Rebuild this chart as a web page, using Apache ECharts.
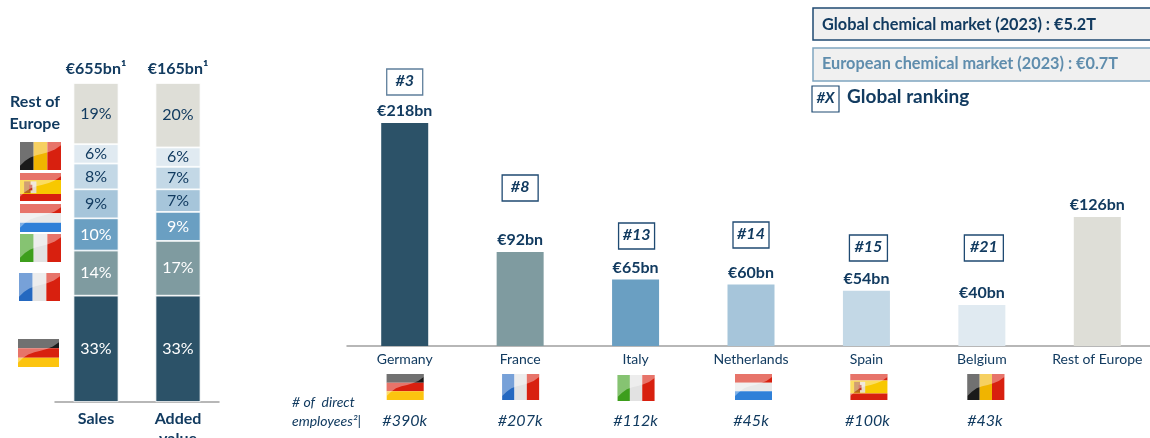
<!DOCTYPE html>
<html><head><meta charset="utf-8">
<style>html,body{margin:0;padding:0;background:#fff;overflow:hidden}#c{width:1150px;height:438px}</style>
<script src="https://cdn.jsdelivr.net/npm/echarts@6/dist/echarts.min.js"></script>
</head><body><div id="c"></div>
<script>
const stackCategories = ['Sales', 'Added\nvalue'];
const stackTotals = ['€655bn¹', '€165bn¹'];
const germanyShare = [33, 33];
const franceShare = [14, 17];
const italyShare = [10, 9];
const netherlandsShare = [9, 7];
const spainShare = [8, 7];
const belgiumShare = [6, 6];
const restShare = [19, 20];

const countries = ['Germany', 'France', 'Italy', 'Netherlands', 'Spain', 'Belgium', 'Rest of Europe'];
const chemicalSales = [218, 92, 65, 60, 54, 40, 126];
const rankings = ['#3', '#8', '#13', '#14', '#15', '#21', null];
const employees = ['#390k', '#207k', '#112k', '#45k', '#100k', '#43k', null];

const DARK = '#123b60';
const colors = ['#2c5268', '#7f9ba0', '#6a9fc2', '#a6c5da', '#c3d8e6', '#e0eaf1', '#deded7'];
const FONT = 'Lato';

const stackData = [germanyShare, franceShare, italyShare, netherlandsShare, spainShare, belgiumShare, restShare];
const stackSeries = stackData.map((d, i) => ({
  type: 'bar', stack: 'a', xAxisIndex: 0, yAxisIndex: 0, barWidth: 45, data: d,
  itemStyle: {color: colors[i], borderColor: '#fff', borderWidth: 0.8},
  label: {show: true, position: 'inside', formatter: '{c}%', fontFamily: FONT, fontSize: 16,
    color: i < 3 ? '#fff' : DARK},
  animation: false
}));

const chart = echarts.init(document.getElementById('c'), null, {renderer: 'canvas'});
const baseAxis = {
  type: 'category',
  axisTick: {show: false},
  axisLine: {lineStyle: {color: '#a0a0a0', width: 1.5}}
};
chart.setOption({
  animation: false,
  backgroundColor: '#fff',
  grid: [
    {left: 55, top: 83, width: 164, height: 319, outerBoundsMode: 'none'},
    {left: 347, top: 123, width: 808, height: 223, outerBoundsMode: 'none'}
  ],
  xAxis: [
    {...baseAxis, gridIndex: 0, data: stackCategories,
      axisLabel: {fontFamily: FONT, fontWeight: 'bold', fontSize: 16, color: DARK, margin: 7, lineHeight: 20, interval: 0}},
    {...baseAxis, gridIndex: 1, data: countries,
      axisLabel: {fontFamily: FONT, fontSize: 14, color: DARK, margin: 6, interval: 0}}
  ],
  yAxis: [
    {type: 'value', gridIndex: 0, min: 0, max: 99, show: false},
    {type: 'value', gridIndex: 1, min: 0, max: 218, show: false}
  ],
  series: [...stackSeries, {
    type: 'bar', xAxisIndex: 1, yAxisIndex: 1, barWidth: 47,
    data: chemicalSales.map((v, i) => ({value: v, itemStyle: {color: colors[i]}})),
    label: {show: true, position: 'top', distance: 4, formatter: '€{c}bn', fontFamily: FONT,
      fontWeight: 'bold', fontSize: 16, color: DARK}
  }]
});

const glossCurve = [[0, 0], [1, 0], [1, 0.12], [0.85, 0.27], [0.7, 0.36], [0.55, 0.42], [0.4, 0.47], [0.25, 0.55], [0.12, 0.68], [0, 0.85]];
function gloss(w, h) {
  return {type: 'polygon', shape: {points: glossCurve.map(p => [p[0] * w, p[1] * h])},
    style: {fill: 'rgba(255,255,255,0.38)'}};
}
function rect(x, y, w, h, fill) { return {type: 'rect', shape: {x, y, width: w, height: h}, style: {fill}}; }
const flagArt = {
  Germany: (w, h) => [rect(0, 0, w, h / 3, '#1a1a1a'), rect(0, h / 3, w, h / 3, '#d8200f'), rect(0, 2 * h / 3, w, h / 3, '#fcc40f')],
  France: (w, h) => [rect(0, 0, w / 3, h, '#2468c0'), rect(w / 3, 0, w / 3, h, '#e2e2e2'), rect(2 * w / 3, 0, w / 3, h, '#d8200f')],
  Italy: (w, h) => [rect(0, 0, w / 3, h, '#3d9e1c'), rect(w / 3, 0, w / 3, h, '#e2e2e2'), rect(2 * w / 3, 0, w / 3, h, '#d8200f')],
  Netherlands: (w, h) => [rect(0, 0, w, h / 3, '#d8200f'), rect(0, h / 3, w, h / 3, '#e8e8e8'), rect(0, 2 * h / 3, w, h / 3, '#2f80d8')],
  Spain: (w, h) => [rect(0, 0, w, h / 4, '#d8200f'), rect(0, h / 4, w, h / 2, '#f8c800'), rect(0, 3 * h / 4, w, h / 4, '#d8200f'),
    rect(w * 0.1, h * 0.3, w * 0.16, h * 0.42, '#b5651d'), rect(w * 0.26, h * 0.3, w * 0.14, h * 0.42, '#e8dcc8'), rect(w * 0.22, h * 0.42, w * 0.08, h * 0.2, '#c03020')],
  Belgium: (w, h) => [rect(0, 0, w / 3, h, '#1a1a1a'), rect(w / 3, 0, w / 3, h, '#f0b400'), rect(2 * w / 3, 0, w / 3, h, '#d8200f')]
};
function flag(name, x, y, w, h) {
  return {type: 'group', x, y, children: [...flagArt[name](w, h), gloss(w, h)]};
}
function text(t, x, y, o) {
  return {type: 'text', x, y, style: Object.assign({text: t, fontFamily: FONT, fill: DARK, align: 'center', verticalAlign: 'middle'}, o || {})};
}

const rankBoxY = [69, 175, 223, 222, 235, 235];
const rankBoxW = [36, 36, 36, 36, 38, 39];
const rankBoxShift = [0, 0, 1, 0, 2, 2];
const rowFlagY = [374, 374, 375, 374, 374, 374];
const rowFlagShift = [0, 0, 0, 2, 2, 3.5];
const employeeShift = [0, 0, 0, 0, 1, 3];
const sideFlags = [['Germany', 18, 339], ['France', 19, 273], ['Italy', 20, 234], ['Netherlands', 20, 204], ['Spain', 20, 173], ['Belgium', 20, 142]];
const g = [];

stackTotals.forEach((t, i) => {
  const cx = chart.convertToPixel({xAxisIndex: 0}, i);
  g.push(text(t, cx, 69, {fontWeight: 'bold', fontSize: 16}));
});
g.push(text('Rest of', 60, 102, {fontWeight: 'bold', fontSize: 16, align: 'right'}));
g.push(text('Europe', 60, 124, {fontWeight: 'bold', fontSize: 16, align: 'right'}));
sideFlags.forEach(f => g.push(flag(f[0], f[1], f[2], 41, 28)));

countries.forEach((c, i) => {
  const cx = chart.convertToPixel({xAxisIndex: 1}, i);
  if (rankings[i]) {
    const w = rankBoxW[i], h = 26, bx = cx + rankBoxShift[i];
    g.push({type: 'rect', shape: {x: bx - w / 2, y: rankBoxY[i], width: w, height: h},
      style: {fill: '#fff', stroke: i === 0 ? '#5f7f9c' : '#1f4a72', lineWidth: 1.3}});
    g.push(text(rankings[i], bx, rankBoxY[i] + 12, {fontWeight: 'bold', fontStyle: 'italic', fontSize: 16}));
  }
  if (employees[i]) {
    g.push(flag(c, cx - 18 + rowFlagShift[i], rowFlagY[i], 37, 26));
    g.push(text(employees[i], cx + employeeShift[i], 421, {fontStyle: 'italic', fontSize: 16}));
  }
});
g.push(text('# of  direct', 292, 402, {fontStyle: 'italic', fontSize: 14, align: 'left'}));
g.push(text('employees²|', 292, 421, {fontStyle: 'italic', fontSize: 14, align: 'left'}));

g.push({type: 'rect', shape: {x: 813, y: 8, width: 345, height: 32}, style: {fill: '#f0f0f0', stroke: '#1f4a72', lineWidth: 1.5}});
g.push(text('Global chemical market (2023) : €5.2T', 822, 25, {fontWeight: 'bold', fontSize: 16.3, align: 'left'}));
g.push({type: 'rect', shape: {x: 813, y: 48, width: 345, height: 33}, style: {fill: '#f0f0f0', stroke: '#7fa5c0', lineWidth: 1.5}});
g.push(text('European chemical market (2023) : €0.7T', 822, 64, {fontWeight: 'bold', fontSize: 16.3, align: 'left', fill: '#5f8dad'}));
g.push({type: 'rect', shape: {x: 812, y: 86, width: 27, height: 26}, style: {fill: '#fff', stroke: '#1f4a72', lineWidth: 1.2}});
g.push(text('#X', 825.5, 98, {fontWeight: 'bold', fontStyle: 'italic', fontSize: 15}));
g.push(text('Global ranking', 847, 97, {fontWeight: 'bold', fontSize: 19, align: 'left'}));

chart.setOption({graphic: {elements: g}});
</script></body></html>
